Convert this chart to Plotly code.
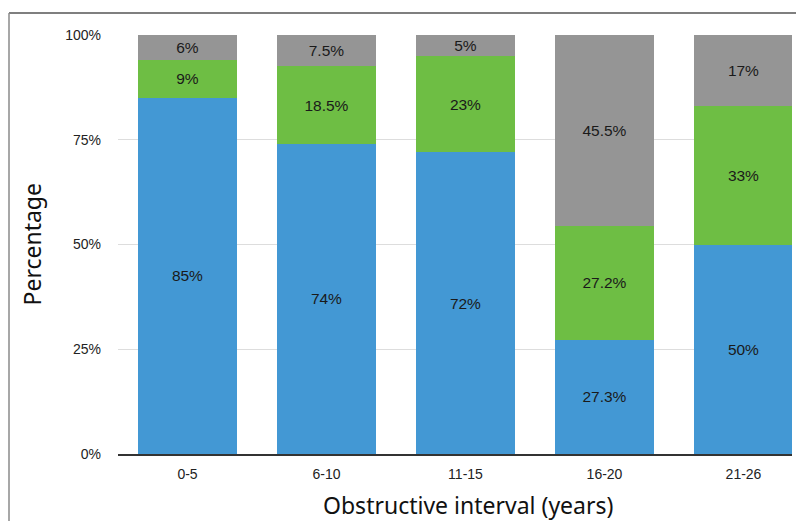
import plotly.graph_objects as go

categories = ["0-5", "6-10", "11-15", "16-20", "21-26"]
blue_vals = [85, 74, 72, 27.3, 50]
green_vals = [9, 18.5, 23, 27.2, 33]
gray_vals = [6, 7.5, 5, 45.5, 17]
y_ticks = [0, 25, 50, 75, 100]
y_tick_labels = ["0%", "25%", "50%", "75%", "100%"]

W, H = 796, 521
ML, MR, MT, MB = 118, 4, 35, 67
PW, PH = W - ML - MR, H - MT - MB


def px_x(x):
    return (x - ML) / PW


def px_y(y):
    return (H - MB - y) / PH


def fmt(v):
    return f"{v:g}%"


series = [
    (blue_vals, "#4398d4"),
    (green_vals, "#6ebe44"),
    (gray_vals, "#959595"),
]

fig = go.Figure()
for vals, col in series:
    fig.add_trace(go.Bar(
        x=categories, y=vals, marker=dict(color=col, line=dict(width=0)),
        text=[fmt(v) for v in vals], textposition="inside",
        insidetextanchor="middle", textangle=0,
        textfont=dict(family="Liberation Sans", size=15.5, color="#1a1a1a"),
        hoverinfo="skip", showlegend=False,
    ))

fig.update_layout(
    width=W, height=H, barmode="stack", bargap=0.288,
    margin=dict(l=ML, r=MR, t=MT, b=MB),
    plot_bgcolor="white", paper_bgcolor="white",
    uniformtext=dict(minsize=15, mode="show"),
    xaxis=dict(
        range=[-0.5, -0.5 + PW / 139.0], showgrid=False, zeroline=False,
        showline=True, linecolor="#333333", linewidth=1.5,
        tickfont=dict(family="Liberation Sans", size=14, color="#222222"),
        ticks="", ticklabelstandoff=6,
    ),
    yaxis=dict(
        range=[0, 100], tickvals=y_ticks, ticktext=y_tick_labels,
        showgrid=True, gridcolor="#dddddd", gridwidth=1, zeroline=False,
        showline=False,
        tickfont=dict(family="Liberation Sans", size=14, color="#222222"),
        ticks="", ticklabelstandoff=16,
    ),
    annotations=[
        dict(text="Percentage", x=px_x(31), y=0.5, xref="paper", yref="paper",
             textangle=-90, showarrow=False, xanchor="center", yanchor="middle",
             font=dict(family="Noto Sans", size=23, color="#111111")),
        dict(text="Obstructive interval (years)", x=px_x(468), y=px_y(505),
             xref="paper", yref="paper", showarrow=False,
             xanchor="center", yanchor="middle",
             font=dict(family="Noto Sans", size=23, color="#111111")),
    ],
    shapes=[
        dict(type="line", xref="paper", yref="paper", x0=px_x(9), x1=px_x(800),
             y0=px_y(13), y1=px_y(13), line=dict(color="#555555", width=1.5)),
        dict(type="line", xref="paper", yref="paper", x0=px_x(9), x1=px_x(9),
             y0=px_y(13), y1=px_y(525), line=dict(color="#8a8a8a", width=1.5)),
    ],
)

fig.write_html("out.html")
